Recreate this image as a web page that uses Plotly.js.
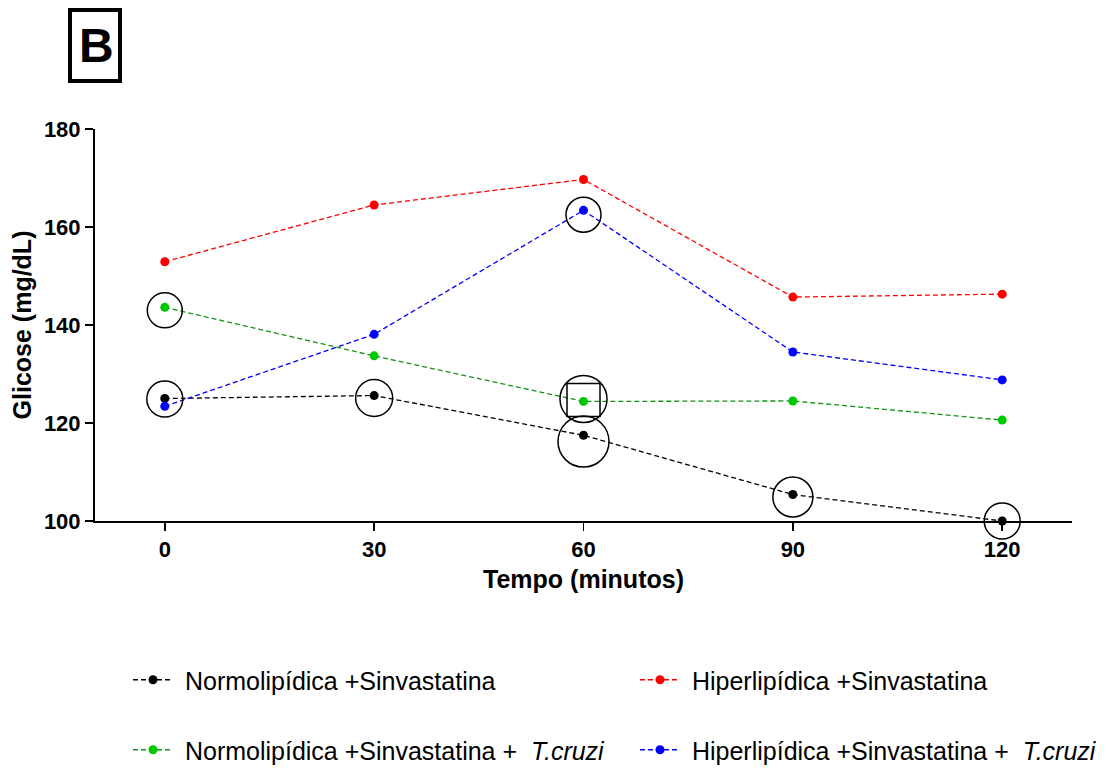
<!DOCTYPE html>
<html>
<head>
<meta charset="utf-8">
<script src="https://cdn.plot.ly/plotly-3.0.1.min.js"></script>
<style>html,body{margin:0;padding:0;background:#fff;}#chart{width:1119px;height:769px;}</style>
</head>
<body>
<div id="chart"></div>
<script>
// ---- data ----
const tempo = [0, 30, 60, 90, 120];
const tickLabels = ["0", "30", "60", "90", "120"];
const normoSinva = [125.0, 125.6, 117.5, 105.4, 100.0];
const hiperSinva = [152.9, 164.5, 169.7, 145.7, 146.3];
const normoSinvaTc = [143.6, 133.7, 124.4, 124.5, 120.6];
const hiperSinvaTc = [123.4, 138.1, 163.4, 134.5, 128.8];
const names = [
  "\u00a0Normolipídica +Sinvastatina",
  "\u00a0Hiperlipídica +Sinvastatina",
  "\u00a0Normolipídica +Sinvastatina +\u00a0 <i>T.cruzi</i>",
  "\u00a0Hiperlipídica +Sinvastatina +\u00a0 <i>T.cruzi</i>"
];
// highlighted points (open circles / square drawn around them)
const circleX = [0, 0, 30, 60, 60, 60, 90, 120];
const circleY = [143.0, 124.9, 125.1, 162.5, 124.9, 116.2, 104.9, 100.0];
const circleSize = [35, 36, 37, 35, 47, 51, 40, 36];
const squareX = [60];
const squareY = [124.7];
const squareSize = [33];

const FONT = "Liberation Sans, Arial, Helvetica, sans-serif";

function series(y, name, lineColor, markerColor, legend) {
  return {
    x: tempo, y: y, name: name, type: "scatter", mode: "lines+markers",
    line: {color: lineColor, width: 1.3, dash: "5px,3px"},
    marker: {color: markerColor, size: 9},
    cliponaxis: false, legend: legend
  };
}

const traces = [
  series(normoSinva, names[0], "#000000", "#000000", "legend"),
  series(hiperSinva, names[1], "#ff0000", "#ff0000", "legend2"),
  series(normoSinvaTc, names[2], "#1a8f1a", "#00c800", "legend3"),
  series(hiperSinvaTc, names[3], "#0000ff", "#0000ff", "legend4"),
  {
    x: circleX, y: circleY, type: "scatter", mode: "markers", showlegend: false,
    marker: {symbol: "circle-open", size: circleSize, color: "#000000", opacity: 1, line: {width: 1.5, color: "#000000"}},
    cliponaxis: false, hoverinfo: "skip"
  },
  {
    x: squareX, y: squareY, type: "scatter", mode: "markers", showlegend: false,
    marker: {symbol: "square-open", size: squareSize, color: "#000000", opacity: 1, line: {width: 1.5, color: "#000000"}},
    cliponaxis: false, hoverinfo: "skip"
  }
];

const W = 1119, H = 769, L = 95, R = 47, T = 129, B = 248;
const pw = W - L - R, ph = H - T - B;
const px = x => (x - L) / pw;
const py = y => (H - B - y) / ph;

const legendCommon = {
  orientation: "h", xanchor: "left", yanchor: "middle",
  font: {family: FONT, size: 25, color: "#000000"},
  itemwidth: 40,
  bgcolor: "rgba(0,0,0,0)", traceorder: "normal"
};

const layout = {
  width: W, height: H,
  margin: {l: L, r: R, t: T, b: B, pad: 0, autoexpand: false},
  paper_bgcolor: "#ffffff", plot_bgcolor: "#ffffff",
  font: {family: FONT, color: "#000000"},
  xaxis: {
    range: [-10, 130], tickvals: tempo, ticktext: tickLabels,
    showgrid: false, zeroline: false, showline: true, linecolor: "#000000", linewidth: 2,
    ticks: "outside", ticklen: 8, tickwidth: 1.5, tickcolor: "#000000",
    tickfont: {family: FONT, size: 22, color: "#000000", weight: "bold"},
    title: {text: "<b>Tempo (minutos)</b>", font: {family: FONT, size: 25, color: "#000000"}, standoff: 9},
    automargin: false, fixedrange: true
  },
  yaxis: {
    range: [100, 180], tickvals: [100, 120, 140, 160, 180],
    showgrid: false, zeroline: false, showline: true, linecolor: "#000000", linewidth: 2,
    ticks: "outside", ticklen: 8, tickwidth: 1.5, tickcolor: "#000000",
    tickfont: {family: FONT, size: 22, color: "#000000", weight: "bold"},
    title: {text: "<b>Glicose (mg/dL)</b>", font: {family: FONT, size: 25, color: "#000000"}, standoff: 5},
    automargin: false, fixedrange: true
  },
  legend: Object.assign({}, legendCommon, {x: px(128), y: py(680)}),
  legend2: Object.assign({}, legendCommon, {x: px(635), y: py(680)}),
  legend3: Object.assign({}, legendCommon, {x: px(128), y: py(750)}),
  legend4: Object.assign({}, legendCommon, {x: px(635), y: py(750)}),
  shapes: [{
    type: "rect", xref: "paper", yref: "paper",
    x0: px(70), x1: px(120), y0: py(81), y1: py(10),
    line: {color: "#000000", width: 4}, fillcolor: "rgba(0,0,0,0)"
  }],
  annotations: [{
    xref: "paper", yref: "paper", x: px(96), y: py(46), xanchor: "center", yanchor: "middle",
    text: "<b>B</b>", showarrow: false, font: {family: FONT, size: 48, color: "#000000"}
  }],
  showlegend: true
};

Plotly.newPlot("chart", traces, layout, {displayModeBar: false, staticPlot: true});
</script>
</body>
</html>
